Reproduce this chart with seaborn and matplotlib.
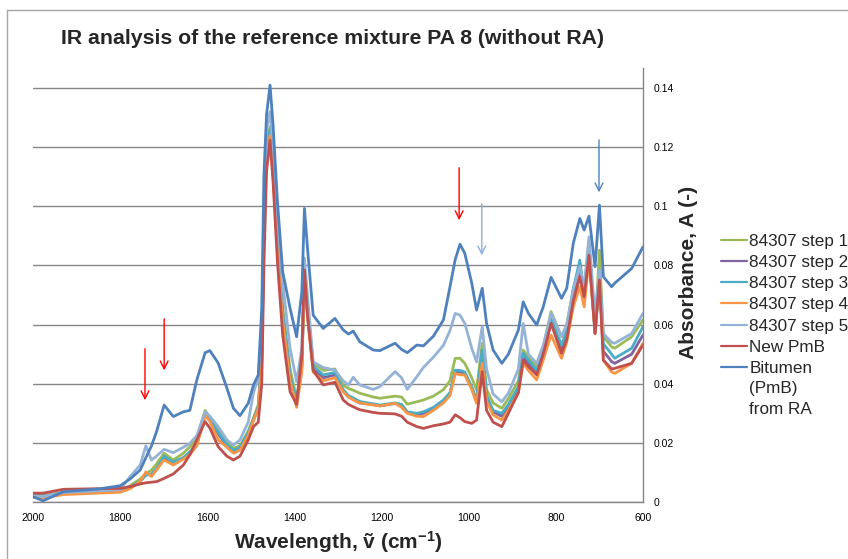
import matplotlib
matplotlib.use("Agg")
import matplotlib.pyplot as plt
from matplotlib.lines import Line2D
import numpy as np
import pandas as pd
import seaborn as sns

# wavenumbers (cm-1)
wavenumber = [2000, 1977, 1930, 1850, 1800, 1777, 1754, 1741, 1728, 1716,
              1699, 1678, 1655, 1640, 1624, 1605, 1594, 1575, 1555, 1540,
              1525, 1506, 1494, 1483, 1475, 1470, 1464, 1456, 1449, 1439,
              1427, 1410, 1395, 1383, 1377, 1370, 1357, 1334, 1307, 1288,
              1276, 1265, 1250, 1219, 1204, 1169, 1154, 1141, 1119, 1104,
              1081, 1058, 1043, 1031, 1020, 1009, 993, 982, 969, 959,
              944, 924, 909, 886, 875, 863, 844, 829, 811, 787,
              775, 760, 745, 735, 724, 710, 700, 691, 672, 665,
              626, 600]

step1 = [0.0025, 0.0022, 0.0033, 0.0037, 0.0040, 0.0055, 0.0078, 0.0095, 0.0108, 0.0130,
         0.0165, 0.0142, 0.0165, 0.0187, 0.0215, 0.0310, 0.0285, 0.0243, 0.0205, 0.0182,
         0.0190, 0.0240, 0.0284, 0.0330, 0.0500, 0.0950, 0.1200, 0.1270, 0.1150, 0.0900,
         0.0660, 0.0450, 0.0350, 0.0470, 0.0795, 0.0650, 0.0470, 0.0445, 0.0450, 0.0395,
         0.0384, 0.0378, 0.0368, 0.0355, 0.0351, 0.0358, 0.0355, 0.0331, 0.0339, 0.0345,
         0.0358, 0.0380, 0.0410, 0.0486, 0.0486, 0.0469, 0.0420, 0.0379, 0.0537, 0.0380,
         0.0335, 0.0317, 0.0350, 0.0410, 0.0514, 0.0491, 0.0458, 0.0520, 0.0644, 0.0559,
         0.0600, 0.0720, 0.0801, 0.0717, 0.0875, 0.0582, 0.0852, 0.0560, 0.0525, 0.0520,
         0.0559, 0.0616]

step2 = [0.0022, 0.0019, 0.0029, 0.0034, 0.0037, 0.0048, 0.0068, 0.0095, 0.0090, 0.0110,
         0.0150, 0.0130, 0.0148, 0.0165, 0.0195, 0.0298, 0.0278, 0.0230, 0.0190, 0.0170,
         0.0180, 0.0230, 0.0278, 0.0318, 0.0480, 0.0920, 0.1180, 0.1250, 0.1120, 0.0870,
         0.0630, 0.0425, 0.0335, 0.0455, 0.0785, 0.0635, 0.0450, 0.0420, 0.0430, 0.0375,
         0.0355, 0.0348, 0.0335, 0.0330, 0.0325, 0.0333, 0.0328, 0.0303, 0.0295, 0.0300,
         0.0318, 0.0340, 0.0365, 0.0440, 0.0440, 0.0435, 0.0385, 0.0340, 0.0500, 0.0355,
         0.0305, 0.0290, 0.0325, 0.0385, 0.0490, 0.0470, 0.0435, 0.0500, 0.0610, 0.0520,
         0.0570, 0.0700, 0.0780, 0.0690, 0.0850, 0.0570, 0.0760, 0.0510, 0.0475, 0.0469,
         0.0500, 0.0565]

step3 = [0.0022, 0.0020, 0.0030, 0.0035, 0.0038, 0.0050, 0.0070, 0.0090, 0.0095, 0.0115,
         0.0155, 0.0135, 0.0150, 0.0170, 0.0200, 0.0300, 0.0280, 0.0235, 0.0195, 0.0175,
         0.0185, 0.0235, 0.0280, 0.0320, 0.0490, 0.0930, 0.1190, 0.1260, 0.1130, 0.0880,
         0.0640, 0.0430, 0.0340, 0.0460, 0.0790, 0.0640, 0.0460, 0.0430, 0.0438, 0.0380,
         0.0360, 0.0352, 0.0340, 0.0332, 0.0328, 0.0335, 0.0330, 0.0305, 0.0300, 0.0305,
         0.0320, 0.0345, 0.0370, 0.0446, 0.0445, 0.0440, 0.0390, 0.0345, 0.0514, 0.0360,
         0.0310, 0.0300, 0.0330, 0.0390, 0.0503, 0.0480, 0.0445, 0.0510, 0.0621, 0.0530,
         0.0580, 0.0720, 0.0818, 0.0705, 0.0860, 0.0575, 0.0767, 0.0535, 0.0500, 0.0486,
         0.0520, 0.0593]

step4 = [0.0015, 0.0014, 0.0025, 0.0030, 0.0033, 0.0045, 0.0069, 0.0102, 0.0086, 0.0110,
         0.0142, 0.0125, 0.0145, 0.0160, 0.0190, 0.0294, 0.0272, 0.0210, 0.0185, 0.0165,
         0.0175, 0.0225, 0.0275, 0.0315, 0.0470, 0.0900, 0.1170, 0.1240, 0.1100, 0.0850,
         0.0610, 0.0410, 0.0320, 0.0440, 0.0775, 0.0625, 0.0440, 0.0410, 0.0420, 0.0373,
         0.0355, 0.0345, 0.0335, 0.0328, 0.0325, 0.0334, 0.0320, 0.0300, 0.0290, 0.0289,
         0.0310, 0.0335, 0.0360, 0.0435, 0.0430, 0.0430, 0.0380, 0.0334, 0.0469, 0.0340,
         0.0295, 0.0277, 0.0310, 0.0370, 0.0469, 0.0445, 0.0413, 0.0480, 0.0565, 0.0486,
         0.0540, 0.0660, 0.0728, 0.0660, 0.0818, 0.0570, 0.0760, 0.0480, 0.0440, 0.0435,
         0.0469, 0.0537]

step5 = [0.0022, 0.0018, 0.0032, 0.0038, 0.0042, 0.0086, 0.0125, 0.0190, 0.0142, 0.0156,
         0.0178, 0.0167, 0.0185, 0.0198, 0.0225, 0.0305, 0.0290, 0.0255, 0.0210, 0.0193,
         0.0210, 0.0270, 0.0370, 0.0420, 0.0600, 0.1000, 0.1260, 0.1320, 0.1200, 0.0970,
         0.0745, 0.0520, 0.0407, 0.0520, 0.0825, 0.0700, 0.0474, 0.0455, 0.0446, 0.0410,
         0.0396, 0.0422, 0.0396, 0.0381, 0.0390, 0.0441, 0.0420, 0.0381, 0.0424, 0.0455,
         0.0490, 0.0530, 0.0580, 0.0638, 0.0632, 0.0604, 0.0520, 0.0474, 0.0593, 0.0450,
         0.0365, 0.0339, 0.0368, 0.0450, 0.0604, 0.0500, 0.0469, 0.0530, 0.0638, 0.0559,
         0.0600, 0.0720, 0.0796, 0.0728, 0.0897, 0.0627, 0.0785, 0.0570, 0.0540, 0.0537,
         0.0570, 0.0638]

new_pmb = [0.0030, 0.0030, 0.0043, 0.0045, 0.0046, 0.0052, 0.0061, 0.0065, 0.0067, 0.0069,
           0.0080, 0.0095, 0.0125, 0.0160, 0.0210, 0.0272, 0.0250, 0.0187, 0.0155, 0.0142,
           0.0155, 0.0210, 0.0255, 0.0270, 0.0400, 0.0800, 0.1120, 0.1224, 0.1083, 0.0813,
           0.0565, 0.0373, 0.0330, 0.0500, 0.0785, 0.0632, 0.0445, 0.0396, 0.0405, 0.0345,
           0.0330, 0.0322, 0.0312, 0.0303, 0.0300, 0.0298, 0.0290, 0.0270, 0.0255, 0.0249,
           0.0258, 0.0264, 0.0270, 0.0295, 0.0285, 0.0272, 0.0266, 0.0277, 0.0441, 0.0310,
           0.0270, 0.0255, 0.0300, 0.0370, 0.0480, 0.0458, 0.0430, 0.0500, 0.0604, 0.0503,
           0.0550, 0.0680, 0.0762, 0.0694, 0.0835, 0.0570, 0.0751, 0.0480, 0.0450, 0.0452,
           0.0469, 0.0531]

bitumen = [0.0018, 0.0004, 0.0035, 0.0044, 0.0055, 0.0078, 0.0108, 0.0150, 0.0190, 0.0240,
           0.0328, 0.0289, 0.0305, 0.0310, 0.0413, 0.0505, 0.0512, 0.0470, 0.0385, 0.0317,
           0.0292, 0.0334, 0.0396, 0.0430, 0.0656, 0.1106, 0.1310, 0.1410, 0.1275, 0.1016,
           0.0779, 0.0655, 0.0559, 0.0711, 0.0993, 0.0858, 0.0632, 0.0587, 0.0621, 0.0582,
           0.0568, 0.0578, 0.0542, 0.0514, 0.0512, 0.0537, 0.0516, 0.0505, 0.0531, 0.0528,
           0.0561, 0.0616, 0.0728, 0.0820, 0.0872, 0.0841, 0.0740, 0.0649, 0.0723, 0.0604,
           0.0514, 0.0469, 0.0500, 0.0582, 0.0677, 0.0638, 0.0599, 0.0660, 0.0760, 0.0689,
           0.0723, 0.0875, 0.0959, 0.0920, 0.0967, 0.0796, 0.1004, 0.0762, 0.0728, 0.0740,
           0.0790, 0.0863]

series_names = ["84307 step 1", "84307 step 2", "84307 step 3", "84307 step 4",
                "84307 step 5", "New PmB", "Bitumen\n(PmB)\nfrom RA"]
series_values = [step1, step2, step3, step4, step5, new_pmb, bitumen]
colors = ["#9bbb59", "#8064a2", "#4bacc6", "#f79646", "#95b3d7", "#c0504d", "#4f81bd"]

y_ticks = [0, 0.02, 0.04, 0.06, 0.08, 0.1, 0.12, 0.14]
y_ticklabels = ["0", "0.02", "0.04", "0.06", "0.08", "0.1", "0.12", "0.14"]
x_ticks = [2000, 1800, 1600, 1400, 1200, 1000, 800, 600]

sns.set_style("white")
plt.rcParams["font.family"] = ["Liberation Sans", "DejaVu Sans"]
plt.rcParams["mathtext.fontset"] = "custom"
plt.rcParams["mathtext.rm"] = "Liberation Sans:bold"
plt.rcParams["mathtext.default"] = "rm"

frames = [pd.DataFrame({"wn": wavenumber, "A": vals, "series": name})
          for name, vals in zip(series_names, series_values)]
df = pd.concat(frames, ignore_index=True)

fig = plt.figure(figsize=(8.48, 5.59), dpi=100)
ax = fig.add_axes([33 / 848, 57 / 559, 610 / 848, 434 / 559])

sns.lineplot(data=df, x="wn", y="A", hue="series", hue_order=series_names,
             palette=colors, linewidth=2, errorbar=None, legend=False, ax=ax)

ax.set_xlim(2000, 600)
ax.set_ylim(0, 0.1468)
ax.set_xticks(x_ticks)
ax.set_xticklabels([str(t) for t in x_ticks])
ax.set_yticks(y_ticks)
ax.set_yticklabels(y_ticklabels)
ax.yaxis.tick_right()
ax.yaxis.set_label_position("right")
ax.tick_params(length=0, labelsize=7.5, pad=8, colors="black")
ax.grid(axis="y", color="#868686", lw=1)
ax.set_axisbelow(True)
for s in ["left", "top"]:
    ax.spines[s].set_visible(False)
for s in ["right", "bottom"]:
    ax.spines[s].set_color("#868686")
    ax.spines[s].set_linewidth(1)

ax.set_xlabel("Wavelength, ṽ (cm$^{-1}$)", fontsize=15, fontweight="bold",
              va="center", ha="center")
ax.xaxis.set_label_coords(0.5, (502 - 542) / 434)
ax.set_ylabel("Absorbance, A (-)", fontsize=15, fontweight="bold",
              va="center", ha="center", rotation=90)
ax.yaxis.set_label_coords((689 - 33) / 610, 0.53)

fig.text(61 / 848, 1 - 39 / 559, "IR analysis of the reference mixture PA 8 (without RA)",
         fontsize=15.3, fontweight="bold", ha="left", va="center")

# arrows marking the bands
arrows = [(1743, 0.0528, 0.0335, "#ff0000"), (1699, 0.0629, 0.0436, "#ff0000"),
          (1022, 0.114, 0.0944, "#ff0000"), (970, 0.1018, 0.0825, "#8cb0e0"),
          (701, 0.1234, 0.1038, "#4f81bd")]
for xw, y0, y1, c in arrows:
    ax.annotate("", xy=(xw, y1), xytext=(xw, y0),
                arrowprops=dict(arrowstyle="->", color=c, lw=1, mutation_scale=14))

handles = [Line2D([], [], color=c, lw=1.6) for c in colors]
leg = ax.legend(handles, series_names, loc="upper left",
                bbox_to_anchor=(721 / 848, 1 - 234 / 559),
                bbox_transform=fig.transFigure, frameon=False, fontsize=12.3,
                handlelength=1.55, handletextpad=0.1, labelspacing=0.36,
                borderpad=0, borderaxespad=0)
for t in leg.get_texts():
    t.set_linespacing(1.45)
# put the handle of the three-line label next to its first line
for col in leg._legend_handle_box.get_children():
    rows = col.get_children()
    rows[-1].align = "top"

# chart area border (top and left edges visible)
fig.add_artist(Line2D([7 / 848, 1], [1 - 10 / 559] * 2, transform=fig.transFigure,
                      color="#a6a6a6", lw=1))
fig.add_artist(Line2D([7 / 848] * 2, [0, 1 - 10 / 559], transform=fig.transFigure,
                      color="#a6a6a6", lw=1))

fig.savefig("out.png", dpi=100)
